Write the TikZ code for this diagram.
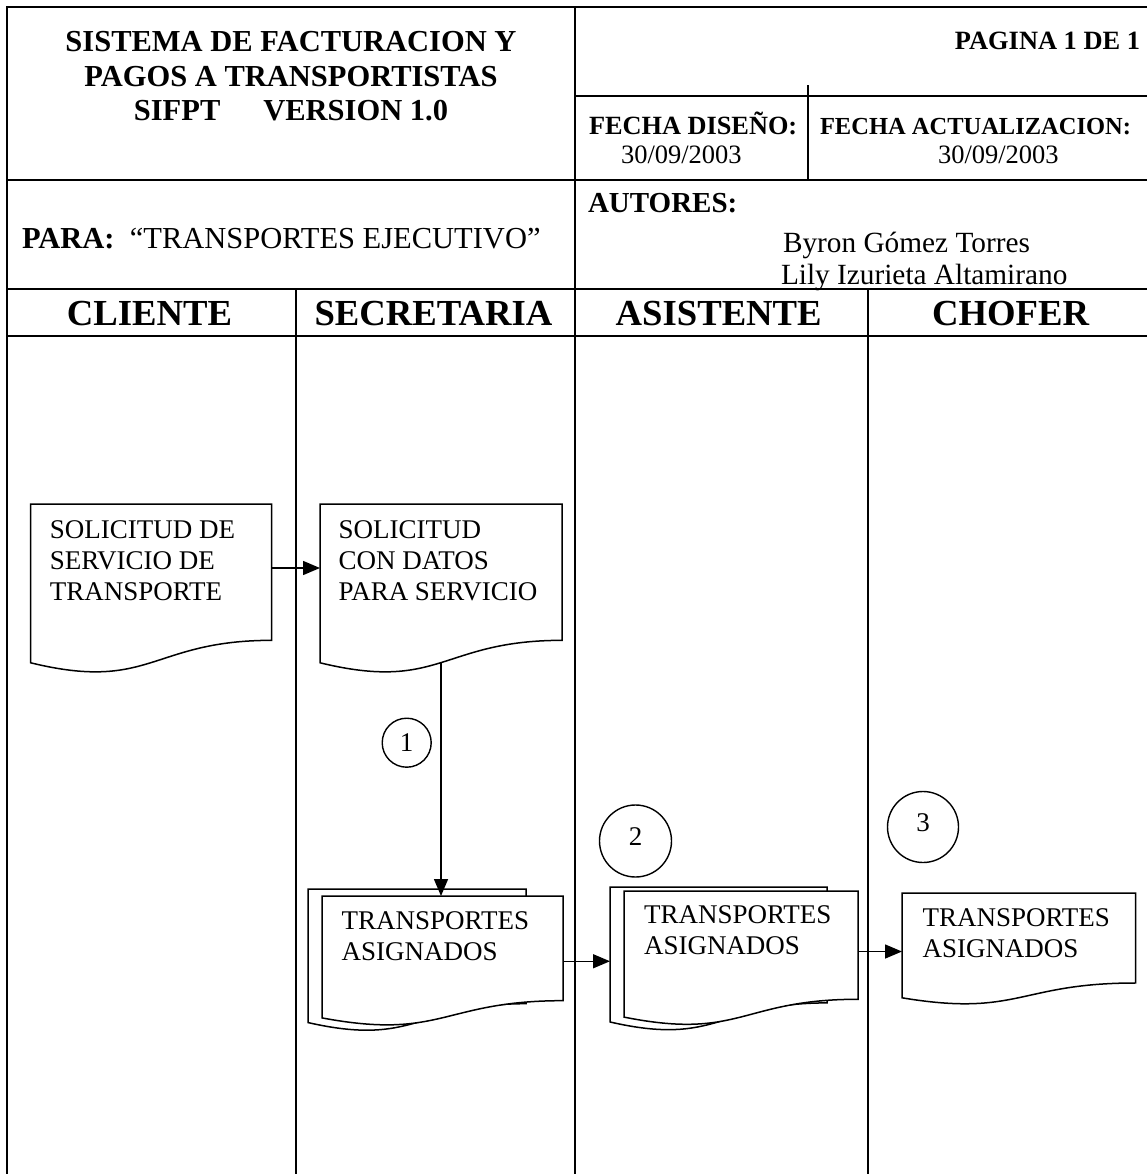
\documentclass[tikz,border=0pt]{standalone}
\usepackage{fontspec}
\setmainfont{Liberation Serif}
\usetikzlibrary{arrows.meta,calc}
\newcommand\fsz[1]{\fontsize{#1}{#1}\selectfont}
% document shape: name, x, y (north west), width, height
\newcommand\docshape[5]{%
  \node[docbox, minimum width=#4pt, minimum height=#5pt] (#1) at (#2,#3) {};
  \draw[docline, shift={(#1.north west)}] (0,0) -- (#4,0) -- (#4,{0.802*#5})
    .. controls ({0.5*#4},{0.802*#5}) and ({0.5*#4},{1.1075*#5}) .. (0,{0.934*#5}) -- cycle;}
\begin{document}
\begin{tikzpicture}[x=1pt,y=-1pt,
  frame/.style={line width=2.1pt, line cap=rect},
  lane/.style={line width=1.5pt},
  docline/.style={line width=1.5pt, fill=white, line join=miter},
  flow/.style={line width=1.5pt, -{Triangle[length=17pt,width=14pt]}},
  t/.style={inner sep=0pt, outer sep=0pt, anchor=base west},
  tc/.style={inner sep=0pt, outer sep=0pt, anchor=base},
  tr/.style={inner sep=0pt, outer sep=0pt, anchor=base east},
  title/.style={tc, font=\fsz{30.5}\bfseries},
  lanehead/.style={tc, font=\fsz{36.7}\bfseries},
  doctext/.style={t, font=\fsz{27}},
  docbox/.style={rectangle, draw=none, inner sep=0pt, outer sep=0pt, anchor=north west},
  numcirc/.style={circle, draw, line width=1.4pt, inner sep=0pt, font=\fsz{27}}
]
\useasboundingbox (0,0) rectangle (1146,1174);

% frame and table
\draw[frame] (1146,7) -- (7,7) -- (7,1174);
\draw[frame] (575,7) -- (575,336);
\draw[lane] (575,336) -- (575,1174);
\draw[frame] (575,96) -- (1146,96);
\draw[frame] (808,86) -- (808,180);
\draw[frame] (7,180) -- (1146,180);
\draw[frame] (7,289) -- (1146,289);
\draw[frame] (7,336) -- (1146,336);
\draw[lane] (296,289) -- (296,1174);
\draw[lane] (868,289) -- (868,1174);

% header texts
\node[title] (t1) at (291,52) {SISTEMA DE FACTURACION Y};
\node[title] (t2) at (291,87) {PAGOS A TRANSPORTISTAS};
\node[title] (t3) at (291,121) {SIFPT\hspace*{43pt}VERSION 1.0};
\node[tr, font=\fsz{26.4}\bfseries] (pag) at (1140,50) {PAGINA 1 DE 1};
\node[t, font=\fsz{26.3}\bfseries] (fd) at (589,135) {FECHA DISEÑO:};
\node[t, font=\fsz{26.5}] (fdd) at (621,164) {30/09/2003};
\node[t, font=\fsz{24.5}\bfseries] (fa) at (820,135) {FECHA ACTUALIZACION:};
\node[t, font=\fsz{26.5}] (fad) at (938,164) {30/09/2003};
\node[t, font=\fsz{29}\bfseries] (aut) at (588,213) {AUTORES:};
\node[t, font=\fsz{29.3}] (a1) at (783,252) {Byron Gómez Torres};
\node[t, font=\fsz{29.3}] (a2) at (781,284) {Lily Izurieta Altamirano};
\node[t, font=\fsz{30.5}] (para) at (22,248) {\textbf{PARA:}\ \ “TRANSPORTES EJECUTIVO”};

% lane headers
\node[lanehead] (h1) at (149.5,325) {CLIENTE};
\node[lanehead] (h2) at (433.5,325) {SECRETARIA};
\node[lanehead] (h3) at (718.7,325) {ASISTENTE};
\node[lanehead] (h4) at (1010.5,325) {CHOFER};

% documents
\docshape{A}{30.6}{504}{241}{170}
\docshape{B}{320}{504}{242}{170}
\docshape{Cb}{308}{889}{218}{143}
\docshape{C}{322}{896}{241}{130.5}
\docshape{Db}{610}{887}{217}{144.5}
\docshape{D}{624}{891}{234}{135}
\docshape{E}{902}{893}{233.5}{112.2}

% document texts
\node[doctext] (a-1) at (49.8,538) {SOLICITUD DE};
\node[doctext] (a-2) at (49.8,569) {SERVICIO DE};
\node[doctext] (a-3) at (49.8,600) {TRANSPORTE};
\node[doctext] (b-1) at (338.7,538) {SOLICITUD};
\node[doctext] (b-2) at (338.7,569) {CON DATOS};
\node[doctext] (b-3) at (338.7,600) {PARA SERVICIO};
\node[doctext] (c-1) at (341.7,929) {TRANSPORTES};
\node[doctext] (c-2) at (341.7,960) {ASIGNADOS};
\node[doctext] (d-1) at (644,923) {TRANSPORTES};
\node[doctext] (d-2) at (644,954) {ASIGNADOS};
\node[doctext] (e-1) at (922.5,926) {TRANSPORTES};
\node[doctext] (e-2) at (922.5,957) {ASIGNADOS};

% connectors
\coordinate (Aout) at ([yshift=21pt]A.east);
\draw[flow] (Aout) -- (Aout -| B.west);
\coordinate (Bout) at ([yshift=-158.6pt]B.north);
\draw[flow] (Bout) -- (Bout |- C.north);
\draw[flow] (C.east) -- (C.east -| Db.west);
\coordinate (Dout) at ([yshift=7pt]D.east);
\draw[flow] (Dout) -- (Dout -| E.west);

% step circles
\node[numcirc, minimum size=49pt] (n1) at (406.7,742.7) {1};
\node[numcirc, minimum size=72pt] (n2) at (635.5,841) {\raisebox{8pt}{2}};
\node[numcirc, minimum size=71pt] (n3) at (923,827) {\raisebox{8pt}{3}};
\end{tikzpicture}
\end{document}
